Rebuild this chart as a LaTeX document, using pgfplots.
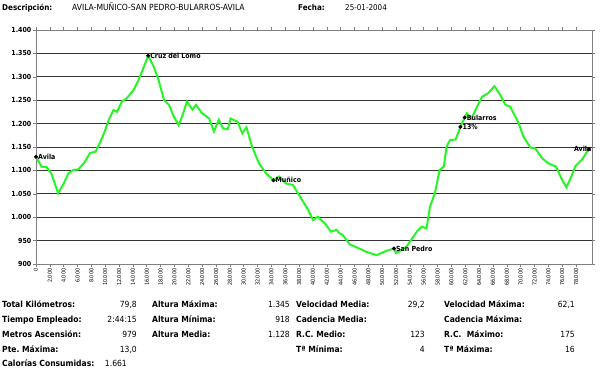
\documentclass[border=0pt]{standalone}
\usepackage{fontspec}
\setmainfont{DejaVu Sans Condensed}
\usepackage{pgfplots}
\pgfplotsset{compat=1.18}
\newcommand{\fs}[1]{\fontsize{#1}{#1}\selectfont}
\frenchspacing
\begin{document}
\begin{tikzpicture}
\path[use as bounding box] (0,0) rectangle (600bp,372bp);
\begin{axis}[
 at={(36bp,108bp)}, anchor=south west, scale only axis,
 width=556bp, height=234bp,
 xmin=0, xmax=80.3, ymin=900, ymax=1400,
 axis line style={gray, line width=0.8bp},
 ytick={900,950,...,1400},
 yticklabels={900,950,1.000,1.050,1.100,1.150,1.200,1.250,1.300,1.350,1.400},
 yticklabel style={font=\fs{7}\bfseries, inner sep=1.5bp},
 ymajorgrids, grid style={black!80, line width=0.8bp},
 xtick={0,2,...,78},
 xticklabels={0,2.000,4.000,6.000,8.000,10.000,12.000,14.000,16.000,18.000,20.000,22.000,24.000,26.000,28.000,30.000,32.000,34.000,36.000,38.000,40.000,42.000,44.000,46.000,48.000,50.000,52.000,54.000,56.000,58.000,60.000,62.000,64.000,66.000,68.000,70.000,72.000,74.000,76.000,78.000},
 xticklabel style={rotate=90, anchor=east, font=\fs{5.5}, inner sep=1.5bp},
 tick align=outside, major tick length=3bp, tick style={gray, line width=0.6bp},
 clip=false,
]
\addplot[color={rgb,255:red,40;green,245;blue,40}, line width=2bp] coordinates {
(0,1129) (0.8,1108) (1.5,1107) (2.2,1094) (3.2,1051) (4.0,1072) (4.7,1094) (5.4,1101)
(6.1,1102) (6.9,1115) (7.8,1137) (8.6,1140) (9.3,1161) (10.0,1186) (10.5,1208) (11.2,1229)
(11.7,1225) (12.4,1247) (13.1,1254) (14.1,1272) (14.8,1293) (15.6,1322) (16.2,1345)
(17.0,1322) (17.7,1293) (18.5,1250) (19.2,1240) (19.9,1215) (20.6,1197) (21.1,1215)
(21.8,1247) (22.6,1230) (23.1,1240) (24.0,1222) (25.0,1211) (25.7,1183) (26.4,1208)
(27.0,1190) (27.7,1188) (28.1,1211) (29.1,1204) (29.8,1179) (30.4,1192) (31.2,1151)
(32.2,1115) (33.2,1094) (34.3,1079) (35.1,1087) (36.1,1072) (37.1,1069) (38.3,1040)
(39.3,1016) (40.0,994) (40.7,1001) (41.7,987) (42.6,969) (43.4,973) (43.8,966) (44.3,962)
(45.3,942) (46.7,933) (47.7,926) (49.2,919) (50.6,928) (51.7,933) (52.0,923) (53.5,937)
(55.0,969) (55.7,980) (56.4,976) (56.9,1022) (57.6,1051) (58.3,1101) (58.9,1108)
(59.3,1151) (59.8,1165) (60.6,1166) (61.3,1193) (62.0,1215) (62.2,1222) (62.9,1211)
(63.7,1236) (64.4,1257) (65.3,1265) (66.2,1280) (66.9,1265) (67.8,1240) (68.5,1236)
(69.7,1201) (70.4,1172) (71.4,1149) (72.1,1147) (73.1,1126) (74.0,1115) (75.1,1108)
(76.0,1079) (76.6,1064) (77.2,1083) (77.9,1109) (78.9,1124) (79.8,1145)
};
\addplot[only marks, mark=*, mark size=1.8bp, black,
 nodes near coords, point meta=explicit symbolic,
 nodes near coords style={anchor=west, font=\fs{7}\bfseries, inner sep=2bp, black}]
 coordinates {(0,1129)[Avila] (16.2,1345)[Cruz del Lomo] (34.3,1079)[Muñico]
 (51.7,933)[San Pedro] (61.9,1213)[Bularros] (61.3,1193)[13\%]};
\addplot[only marks, mark=*, mark size=1.8bp, black,
 nodes near coords, point meta=explicit symbolic,
 nodes near coords style={anchor=east, xshift=3bp, font=\fs{7}\bfseries, inner sep=0bp, black}]
 coordinates {(79.8,1145)[Avila]};
\end{axis}
% header
\node[anchor=base west, inner sep=0, font=\fs{8}\bfseries] at (2bp,361bp) {Descripción:};
\node[anchor=base west, inner sep=0, font=\fs{8.5}] at (72bp,361bp) {AVILA-MUÑICO-SAN PEDRO-BULARROS-AVILA};
\node[anchor=base west, inner sep=0, font=\fs{8}\bfseries] at (298bp,361bp) {Fecha:};
\node[anchor=base west, inner sep=0, font=\fs{8}] at (345bp,361bp) {25-01-2004};
% stats
\tikzset{lab/.style={anchor=base west, inner sep=0, font=\fs{8.5}\bfseries},
         val/.style={anchor=base east, inner sep=0, font=\fs{8.5}}}
\node[lab] at (2bp,64bp) {Total Kilómetros:};   \node[val] at (137bp,64bp) {79,8};
\node[lab] at (2bp,49bp) {Tiempo Empleado:};    \node[val] at (137bp,49bp) {2:44:15};
\node[lab] at (2bp,35bp) {Metros Ascensión:};   \node[val] at (137bp,35bp) {979};
\node[lab] at (2bp,20bp) {Pte. Máxima:};        \node[val] at (137bp,20bp) {13,0};
\node[lab] at (2bp,6bp)  {Calorías Consumidas:};\node[val] at (127bp,6bp) {1.661};
\node[lab] at (152bp,64bp) {Altura Máxima:};    \node[val] at (290bp,64bp) {1.345};
\node[lab] at (152bp,49bp) {Altura Mínima:};    \node[val] at (290bp,49bp) {918};
\node[lab] at (152bp,35bp) {Altura Media:};     \node[val] at (290bp,35bp) {1.128};
\node[lab] at (296bp,64bp) {Velocidad Media:};  \node[val] at (425bp,64bp) {29,2};
\node[lab] at (296bp,49bp) {Cadencia Media:};
\node[lab] at (296bp,35bp) {R.C. Medio:};       \node[val] at (425bp,35bp) {123};
\node[lab] at (296bp,20bp) {Tª Mínima:};        \node[val] at (425bp,20bp) {4};
\node[lab] at (444bp,64bp) {Velocidad Máxima:}; \node[val] at (575bp,64bp) {62,1};
\node[lab] at (444bp,49bp) {Cadencia Máxima:};
\node[lab] at (444bp,35bp) {R.C.\ \ Máximo:};   \node[val] at (575bp,35bp) {175};
\node[lab] at (444bp,20bp) {Tª Máxima:};        \node[val] at (575bp,20bp) {16};
\end{tikzpicture}
\end{document}
